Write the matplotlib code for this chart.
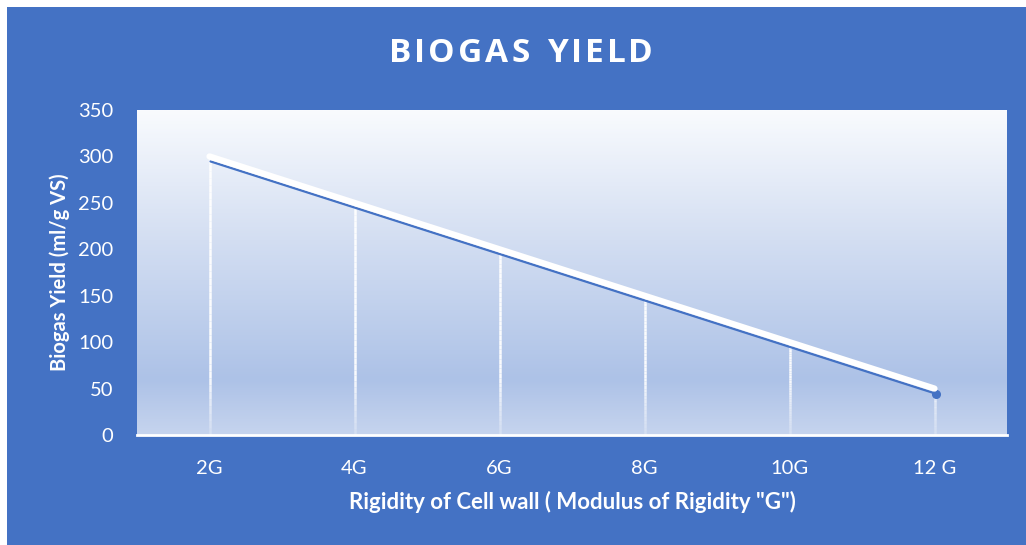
import matplotlib
matplotlib.use("Agg")
import matplotlib.pyplot as plt
import matplotlib.transforms as mtransforms
from matplotlib.colors import LinearSegmentedColormap
from matplotlib.collections import LineCollection
import numpy as np

categories = ["2G", "4G", "6G", "8G", "10G", "12 G"]
values = [300, 250, 200, 150, 100, 50]
yticks = [0, 50, 100, 150, 200, 250, 300, 350]
title = "BIOGAS YIELD"

BLUE = "#4472C4"
W, H = 1026, 545
fig = plt.figure(figsize=(W / 100, H / 100), dpi=100)
fig.patch.set_facecolor("white")
fig.patches.append(plt.Rectangle((7 / W, 0), 1, 1 - 7 / H, transform=fig.transFigure,
                                 facecolor=BLUE, edgecolor="none", zorder=-10))

ax = fig.add_axes([137 / W, 1 - 435 / H, 870 / W, 325 / H])
ax.set_facecolor("none")
x = np.arange(len(categories))
ax.set_xlim(-0.5, len(categories) - 0.5)
ax.set_ylim(0, 350)

cmap = LinearSegmentedColormap.from_list(
    "bg", [(0, "#C6D4EE"), (0.17, "#ADC2E7"), (0.6, "#D3DEF2"), (1.0, "#F9FBFE")])
grad = np.linspace(0, 1, 256).reshape(-1, 1)
ax.imshow(grad, aspect="auto", cmap=cmap, origin="lower",
          extent=(-0.5, len(categories) - 0.5, 0, 350), zorder=0)

segs, cols = [], []
for xi, v in zip(x, values):
    edges = np.linspace(0, v, 40)
    for a, b in zip(edges[:-1], edges[1:]):
        segs.append([(xi, a), (xi, b)])
        alpha = min(0.95, 0.25 + 0.7 * (a / 60.0))
        cols.append((1, 1, 1, alpha))
ax.add_collection(LineCollection(segs, colors=cols, linewidths=1.8, zorder=2,
                                 capstyle="butt"))

shadow = mtransforms.offset_copy(ax.transData, fig=fig, x=1, y=-5, units="dots")
ax.plot(x, values, color=BLUE, linewidth=1.6, transform=shadow, zorder=3,
        solid_capstyle="round")
ax.plot(x[-1:], values[-1:], "o", color=BLUE, markersize=5.5, transform=shadow, zorder=3)
ax.plot(x, values, color="white", linewidth=4.5, zorder=4, solid_capstyle="round")

for s in ["left", "right", "top"]:
    ax.spines[s].set_visible(False)
ax.spines["bottom"].set_color("white")
ax.spines["bottom"].set_linewidth(2)
ax.spines["bottom"].set_zorder(5)

ax.set_xticks(x)
ax.set_xticklabels(categories)
ax.set_yticks(yticks)
ax.tick_params(length=0, colors="white", labelsize=14.5)
ax.tick_params(axis="x", pad=18)
ax.tick_params(axis="y", pad=17)
for lab in ax.get_xticklabels() + ax.get_yticklabels():
    lab.set_family("Lato")
    lab.set_color("white")

ax.set_ylabel("Biogas Yield (ml/g VS)", color="white", fontsize=14.5,
              fontweight="bold", family="Lato", labelpad=6)
ax.set_xlabel('Rigidity of Cell wall ( Modulus of Rigidity "G")', color="white",
              fontsize=16, fontweight="bold", family="Lato", labelpad=10)

# title with letter spacing
renderer = fig.canvas.get_renderer()
tracking = 3.0  # px between letters
props = dict(color="white", fontsize=24, fontweight="bold", family="Open Sans",
             va="center", ha="left")
widths = []
for ch in title:
    t = fig.text(0, 0, ch if ch != " " else "I", **props)
    w = t.get_window_extent(renderer).width
    if ch == " ":
        w *= 1.0
    widths.append(w)
    t.remove()
total = sum(widths) + tracking * (len(title) - 1)
cx = 521
xpos = cx - total / 2
ty = 1 - 53 / H
for ch, w in zip(title, widths):
    if ch != " ":
        fig.text(xpos / W, ty, ch, **props)
    xpos += w + tracking

fig.savefig("out.png", dpi=100)
